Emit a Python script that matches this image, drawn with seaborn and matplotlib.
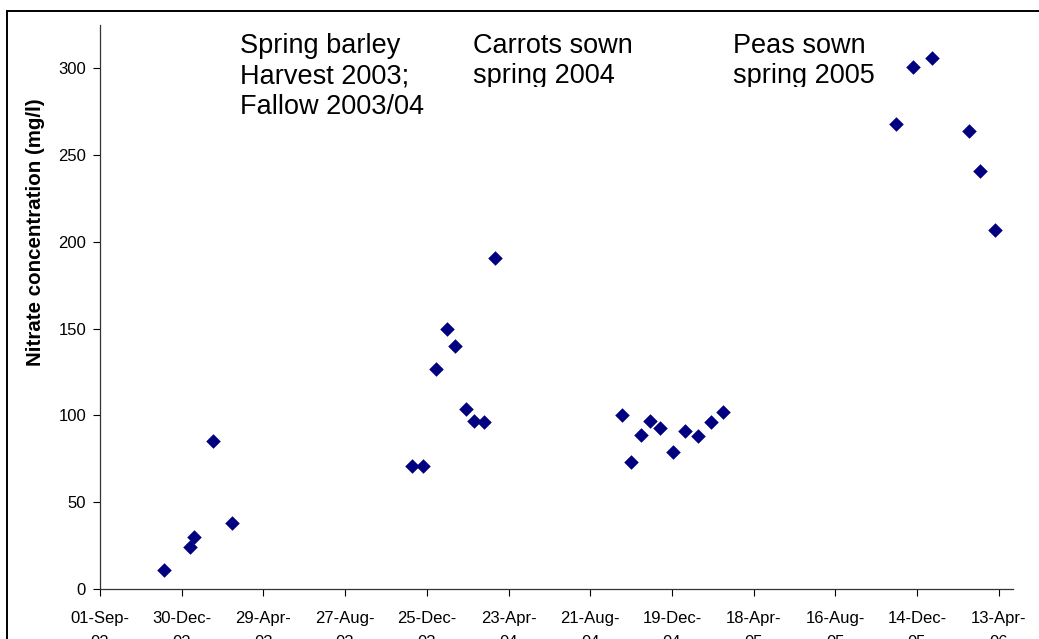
import seaborn as sns
import pandas as pd
import matplotlib.pyplot as plt
from matplotlib.patches import Rectangle
from matplotlib.transforms import Bbox, TransformedBbox

# sampling dates and nitrate readings (mg/l)
dates = ["2002-12-04", "2003-01-11", "2003-01-17", "2003-02-14", "2003-03-14",
         "2003-12-03", "2003-12-19", "2004-01-08", "2004-01-23", "2004-02-05",
         "2004-02-20", "2004-03-04", "2004-03-18", "2004-04-03",
         "2004-10-07", "2004-10-20", "2004-11-04", "2004-11-17", "2004-12-01",
         "2004-12-21", "2005-01-07", "2005-01-27", "2005-02-15", "2005-03-04",
         "2005-11-13", "2005-12-08", "2006-01-05", "2006-02-28", "2006-03-17",
         "2006-04-07"]
nitrate = [11, 24, 30, 85, 38,
           71, 71, 127, 150, 140, 104, 97, 96, 191,
           100, 73, 89, 97, 93, 79, 91, 88, 96, 102,
           268, 301, 306, 264, 241, 207]

tick_dates = ["2002-09-01", "2002-12-30", "2003-04-29", "2003-08-27", "2003-12-25",
              "2004-04-23", "2004-08-21", "2004-12-19", "2005-04-18", "2005-08-16",
              "2005-12-14", "2006-04-13"]
tick_labels = ["01-Sep-\n02", "30-Dec-\n02", "29-Apr-\n03", "27-Aug-\n03", "25-Dec-\n03",
               "23-Apr-\n04", "21-Aug-\n04", "19-Dec-\n04", "18-Apr-\n05", "16-Aug-\n05",
               "14-Dec-\n05", "13-Apr-\n06"]
y_ticks = [0, 50, 100, 150, 200, 250, 300]

notes = ["Spring barley\nHarvest 2003;\nFallow 2003/04",
         "Carrots sown\nspring 2004",
         "Peas sown\nspring 2005"]

df = pd.DataFrame({"date": pd.to_datetime(dates), "nitrate": nitrate})

sns.set_style("white")
plt.rcParams["font.family"] = ["Liberation Sans", "DejaVu Sans"]
plt.rcParams["text.color"] = "black"
plt.rcParams["axes.labelcolor"] = "black"
plt.rcParams["xtick.color"] = "black"
plt.rcParams["ytick.color"] = "black"

fig = plt.figure(figsize=(10.39, 6.39), dpi=100)
ax = fig.add_axes([100 / 1039, 50 / 639, 913 / 1039, 564 / 639])

sns.scatterplot(data=df, x="date", y="nitrate", marker="D", s=55,
                color="#000080", linewidth=0, ax=ax)

ax.set_xlim(pd.Timestamp("2002-09-01"), pd.Timestamp("2006-05-04"))
ax.set_ylim(0, 325)
ax.set_xticks(pd.to_datetime(tick_dates))
ax.set_xticklabels(tick_labels, linespacing=1.75)
ax.set_yticks(y_ticks)
ax.tick_params(axis="both", labelsize=12, length=5, width=0.8,
               direction="out", bottom=True, left=True)
ax.tick_params(axis="x", pad=11)
ax.tick_params(axis="y", pad=5)

sns.despine(ax=ax)
for side in ["left", "bottom"]:
    ax.spines[side].set_color("#333333")
    ax.spines[side].set_linewidth(0.9)

ax.set_xlabel("")
ax.set_ylabel("Nitrate concentration (mg/l)", fontsize=14.8, fontweight="bold")
ax.yaxis.set_label_coords(-0.060, 0.633)

# annotations, the last two cut off at the bottom like the original text boxes
clip = TransformedBbox(Bbox([[0, 552.5 / 639], [1, 1]]), fig.transFigure)
for i, (note, xpos) in enumerate(zip(notes, [0.1533, 0.4085, 0.693])):
    t = ax.text(xpos, 0.986, note, transform=ax.transAxes, fontsize=19.5,
                va="top", ha="left", linespacing=1.22, color="black")
    if i > 0:
        t.set_clip_box(clip)
        t.set_clip_on(True)

# outer border of the original chart area
fig.patches.append(Rectangle((6.5 / 1039, -0.1), 1.2, (639 - 10.5) / 639 + 0.1,
                             transform=fig.transFigure, fill=False,
                             edgecolor="black", linewidth=1.4))

plt.savefig("out.png", dpi=100)
